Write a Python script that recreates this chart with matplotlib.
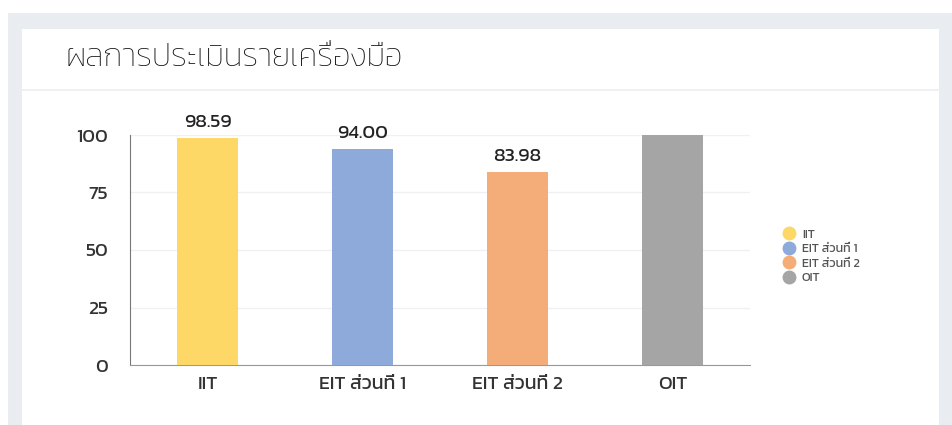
import matplotlib
matplotlib.use("Agg")
import matplotlib.pyplot as plt
from matplotlib.patches import Rectangle
from matplotlib.lines import Line2D

# data
categories = ['IIT', 'EIT ส่วนที่ 1', 'EIT ส่วนที่ 2', 'OIT']
scores = [98.59, 94.00, 83.98, 100]
score_labels = ['98.59', '94.00', '83.98', '']
colors = ['#fdd866', '#8eaadb', '#f4ac78', '#a5a5a5']
y_ticks = [0, 25, 50, 75, 100]
title = 'ผลการประเมินรายเครื่องมือ'

plt.rcParams['font.family'] = ['Kanit', 'DejaVu Sans']

W, H = 953, 425
fig = plt.figure(figsize=(W / 100, H / 100), dpi=100)
fig.patch.set_facecolor('white')

# page background and white card (behind the axes)
fig.patches.append(Rectangle((8 / W, 0), 1, 1 - 13 / H, transform=fig.transFigure,
                             facecolor='#e9edf2', edgecolor='none', zorder=-3))
fig.patches.append(Rectangle((22 / W, 0), (939 - 22) / W, 1 - 29 / H, transform=fig.transFigure,
                             facecolor='white', edgecolor='none', zorder=-2))
fig.lines.append(Line2D([22 / W, 939 / W], [1 - 90 / H, 1 - 90 / H], transform=fig.transFigure,
                        color='#eceef1', linewidth=1.2, zorder=-1))

fig.text(65 / W, 1 - 58 / H, title, fontsize=23, color='#111111', va='center', ha='left',
         fontweight='light')

ax = fig.add_axes([130 / W, 60 / H, 620 / W, 230 / H])
ax.set_zorder(2)
ax.set_facecolor('none')
x = range(len(categories))
bars = ax.bar(x, scores, width=0.39, color=colors, label=categories, zorder=3)
ax.bar_label(bars, labels=score_labels, padding=5, fontsize=14, color='#222222')

ax.set_xlim(-0.5, 3.5)
ax.set_ylim(0, 100)
ax.set_yticks(y_ticks)
ax.set_xticks(list(x))
ax.set_xticklabels(categories)
ax.tick_params(axis='y', length=0, pad=16, labelsize=14, labelcolor='#333333')
ax.tick_params(axis='x', length=0, pad=8, labelsize=14, labelcolor='#333333')
ax.grid(axis='y', color='#f0f0f0', linewidth=1, zorder=0)
ax.spines['top'].set_visible(False)
ax.spines['right'].set_visible(False)
ax.spines['left'].set_color('#777777')
ax.spines['bottom'].set_color('#999999')

handles = [Line2D([], [], marker='o', linestyle='none', markersize=9,
                  markerfacecolor=c, markeredgecolor=c) for c in colors]
fig.legend(handles, categories, loc='center left', bbox_to_anchor=(770 / W, 1 - 256 / H),
           frameon=False, fontsize=9, labelcolor='#555555', handletextpad=0.45,
           labelspacing=0.3, handlelength=1.2)

fig.savefig('out.png', dpi=100)
